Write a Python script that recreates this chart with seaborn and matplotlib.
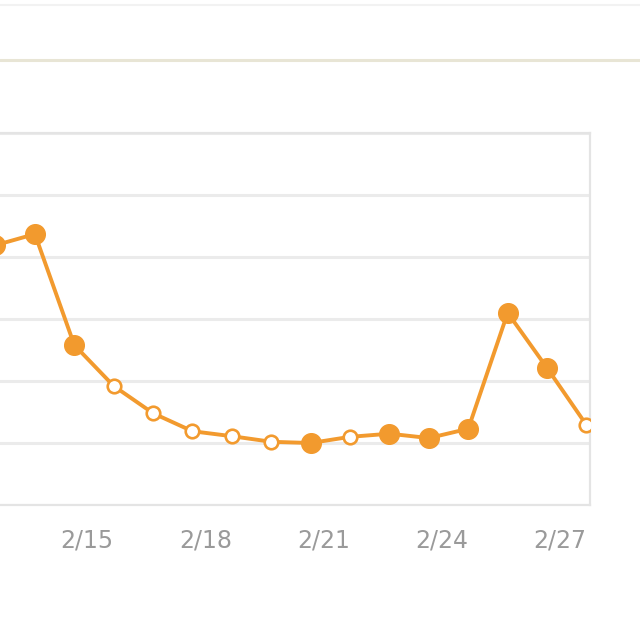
import matplotlib
matplotlib.use("Agg")
import matplotlib.pyplot as plt
import matplotlib.transforms as mtransforms
from matplotlib.lines import Line2D
import pandas as pd
import seaborn as sns

# data (y axis labels are cropped, so the scale is arbitrary)
days = [13, 14, 15, 16, 17, 18, 19, 20, 21, 22, 23, 24, 25, 26, 27, 28]
values = [4190, 4370, 2580, 1920, 1480, 1190, 1110, 1020, 1000, 1100, 1150, 1080, 1230, 3100, 2210, 1290]
filled = [True, True, True, False, False, False, False, False, True, False, True, True, True, True, True, False]
tick_days = [12, 15, 18, 21, 24, 27]
tick_labels = ["2/12", "2/15", "2/18", "2/21", "2/24", "2/27"]

orange = "#f29a2e"
grid_col = "#ebebeb"

df = pd.DataFrame({"day": days, "value": values, "filled": filled})

sns.set_theme(style="white")
plt.rcParams['font.family'] = ['DejaVu Sans']

fig = plt.figure(figsize=(6.4, 6.4), dpi=100, facecolor="white")
ax = fig.add_axes([-0.1, 0.2109, 1.0219, 0.5813])

sns.lineplot(data=df, x="day", y="value", color=orange, linewidth=2.8, ax=ax, zorder=2)
sns.scatterplot(data=df[df["filled"]], x="day", y="value", color=orange, s=200,
                edgecolor=orange, linewidth=1, ax=ax, zorder=3)
sns.scatterplot(data=df[~df["filled"]], x="day", y="value", color="white", s=95,
                edgecolor=orange, linewidth=1.9, ax=ax, zorder=3)

ax.set_xlim(11.49, 28.09)
ax.set_ylim(0, 6000)
ax.set_yticks(range(0, 6001, 1000))
ax.set_yticklabels([])
ax.yaxis.grid(True, color=grid_col, linewidth=2.2)
ax.set_axisbelow(True)
ax.set_xticks(tick_days)
ax.set_xticklabels(tick_labels)
ax.tick_params(axis="x", length=0, pad=17, labelsize=17, labelcolor="#9a9a9a")
ax.tick_params(axis="y", length=0)
ax.set_xlabel("")
ax.set_ylabel("")

# labels sit a little right of their points
offset = mtransforms.ScaledTranslation(0.13, 0, fig.dpi_scale_trans)
for lbl in ax.get_xticklabels():
    lbl.set_transform(lbl.get_transform() + offset)

for side in ["top", "right", "bottom", "left"]:
    ax.spines[side].set_color("#e4e4e4")
    ax.spines[side].set_linewidth(1.6)

# header separators above the chart
fig.add_artist(Line2D([0, 1], [0.906, 0.906], transform=fig.transFigure, color="#e8e5d5", linewidth=2.2))
fig.add_artist(Line2D([0, 1], [0.992, 0.992], transform=fig.transFigure, color="#f2f2f2", linewidth=1.5))

fig.savefig("out.png", dpi=100, facecolor="white")
